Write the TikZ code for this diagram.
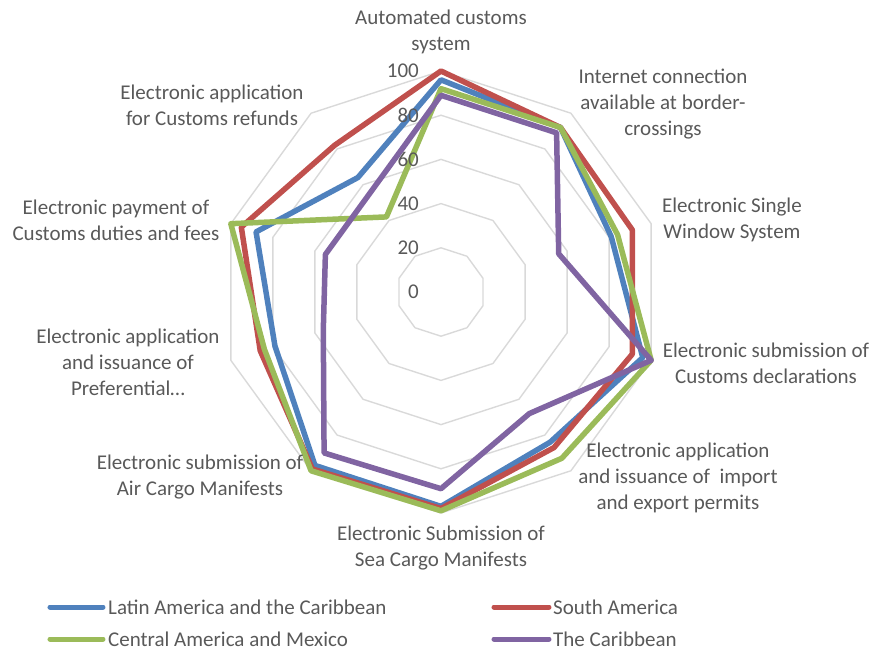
\documentclass[tikz,border=0pt]{standalone}
\usepackage{fontspec}
\setmainfont{Carlito}

\definecolor{lacblue}{HTML}{4F81BD}
\definecolor{sared}{HTML}{C0504D}
\definecolor{camgreen}{HTML}{9BBB59}
\definecolor{caribpurple}{HTML}{8064A2}
\definecolor{gridgray}{HTML}{D9D9D9}
\definecolor{textgray}{HTML}{595959}

\begin{document}
\begin{tikzpicture}[x=1pt,y=1pt,
  ring/.style={draw=gridgray,line width=1.4pt},
  serie/.style={line width=5.5pt,line join=round},
  keyline/.style={line width=5pt,line cap=round},
  lbl/.style={text=textgray,font=\fontsize{21}{26}\selectfont,align=center,inner sep=0pt},
  keytext/.style={text=textgray,font=\fontsize{21}{26}\selectfont,inner sep=0pt,anchor=west},
  tick/.style={text=textgray,font=\fontsize{21}{26}\selectfont,inner sep=0pt,anchor=east}]
\useasboundingbox (-441,-359) rectangle (435,292);

% grid rings 20 ... 100
\foreach \r in {20,40,60,80,100}
  \draw[ring] (90:{2.21*\r}) \foreach \k in {1,...,9}{ -- ({90-36*\k}:{2.21*\r})} -- cycle;

% data points
\foreach \v [count=\k from 0] in {96,92,81,96,84,97,97,79,88,64}
  \coordinate (lac\k) at ({90-36*\k}:{2.21*\v});
\foreach \v [count=\k from 0] in {100,92,91,91,87,98,99,86,95,82}
  \coordinate (sa\k) at ({90-36*\k}:{2.21*\v});
\foreach \v [count=\k from 0] in {92,92,84,100,93,99,100,84,100,42}
  \coordinate (cam\k) at ({90-36*\k}:{2.21*\v});
\foreach \v [count=\k from 0] in {89,89,56,100,68,89,90,56,55,55}
  \coordinate (car\k) at ({90-36*\k}:{2.21*\v});

\draw[serie,lacblue] (lac0) -- (lac1) -- (lac2) -- (lac3) -- (lac4) -- (lac5) -- (lac6) -- (lac7) -- (lac8) -- (lac9) -- cycle;
\draw[serie,sared] (sa0) -- (sa1) -- (sa2) -- (sa3) -- (sa4) -- (sa5) -- (sa6) -- (sa7) -- (sa8) -- (sa9) -- cycle;
\draw[serie,camgreen] (cam0) -- (cam1) -- (cam2) -- (cam3) -- (cam4) -- (cam5) -- (cam6) -- (cam7) -- (cam8) -- (cam9) -- cycle;
\draw[serie,caribpurple] (car0) -- (car1) -- (car2) -- (car3) -- (car4) -- (car5) -- (car6) -- (car7) -- (car8) -- (car9) -- cycle;

% axis values
\foreach \v in {0,20,40,60,80,100}
  \node[tick] (t\v) at (-22,{2.21*\v}) {\v};

% category labels
\node[lbl] (automated) at (0,260) {Automated customs\\system};
\node[lbl] (internet) at (222,188) {Internet connection\\available at border-\\crossings};
\node[lbl] (singlewin) at (291,72) {Electronic Single\\Window System};
\node[lbl] (declar) at (325,-71) {Electronic submission of\\Customs declarations};
\node[lbl] (permits) at (237,-186) {Electronic application\\and issuance of\ \ import\\and export permits};
\node[lbl] (seacargo) at (0,-256) {Electronic Submission of\\Sea Cargo Manifests};
\node[lbl] (aircargo) at (-241,-185) {Electronic submission of\\Air Cargo Manifests};
\node[lbl] (prefer) at (-313,-70) {Electronic application\\and issuance of\\Preferential\ldots};
\node[lbl] (payment) at (-325,72) {Electronic payment of\\Customs duties and fees};
\node[lbl] (refunds) at (-229,187) {Electronic application\\for Customs refunds};

% legend
\coordinate (k1a) at (-391,-315);
\coordinate (k1b) at (-338,-315);
\draw[keyline,lacblue] (k1a) -- (k1b);
\node[keytext] (key1) at (-333,-315) {Latin America and the Caribbean};
\coordinate (k2a) at (53,-315);
\coordinate (k2b) at (108,-315);
\draw[keyline,sared] (k2a) -- (k2b);
\node[keytext] (key2) at (112,-315) {South America};
\coordinate (k3a) at (-391,-347);
\coordinate (k3b) at (-338,-347);
\draw[keyline,camgreen] (k3a) -- (k3b);
\node[keytext] (key3) at (-333,-347) {Central America and Mexico};
\coordinate (k4a) at (53,-347);
\coordinate (k4b) at (108,-347);
\draw[keyline,caribpurple] (k4a) -- (k4b);
\node[keytext] (key4) at (112,-347) {The Caribbean};
\end{tikzpicture}
\end{document}
